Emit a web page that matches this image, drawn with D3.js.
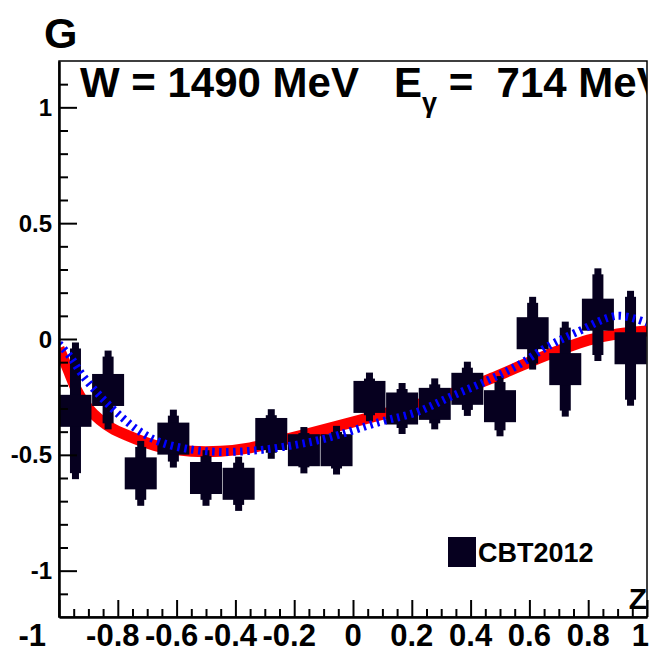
<!DOCTYPE html>
<html>
<head>
<meta charset="utf-8">
<script src="https://cdn.jsdelivr.net/npm/d3@7"></script>
<style>
  html, body { margin: 0; padding: 0; background: #fff; }
  svg { display: block; }
  text { font-family: "Liberation Sans", Arial, Helvetica, sans-serif; font-weight: bold; fill: #000; }
</style>
</head>
<body>
<svg id="chart" width="658" height="653"></svg>
<script>
// CBT2012 measurements of G at W = 1490 MeV, binned in z = cos(theta)
const zBins = [-0.944, -0.833, -0.722, -0.611, -0.5, -0.389, -0.278, -0.167, -0.056,
               0.056, 0.167, 0.278, 0.389, 0.5, 0.611, 0.722, 0.833, 0.944];
const gValues = [-0.31, -0.22, -0.58, -0.43, -0.60, -0.625, -0.41, -0.48, -0.48,
                 -0.25, -0.30, -0.28, -0.215, -0.29, 0.025, -0.13, 0.105, -0.04];
const gErrors = [0.295, 0.17, 0.14, 0.125, 0.12, 0.117, 0.107, 0.10, 0.105,
                 0.105, 0.11, 0.11, 0.117, 0.13, 0.157, 0.205, 0.20, 0.248];

// Model curves (solid red and dashed blue)
const redZ = [-1.0, -0.97, -0.94, -0.90, -0.86, -0.82, -0.77, -0.72, -0.64, -0.55, -0.45, -0.35,
              -0.25, -0.05, 0.10, 0.23, 0.35, 0.47, 0.60, 0.71, 0.80, 0.90, 1.0];
const redG = [-0.04, -0.13, -0.22, -0.30, -0.35, -0.385, -0.415, -0.44, -0.47, -0.485, -0.485, -0.47,
              -0.44, -0.375, -0.325, -0.28, -0.23, -0.17, -0.10, -0.045, -0.005, 0.022, 0.035];
const blueZ = [-1.0, -0.96, -0.918, -0.861, -0.793, -0.724, -0.656, -0.565, -0.463, -0.35,
               -0.238, -0.095, 0.092, 0.218, 0.33, 0.456, 0.558, 0.66, 0.762, 0.898, 1.0];
const blueG = [-0.02, -0.08, -0.16, -0.245, -0.33, -0.40, -0.445, -0.474, -0.487, -0.483,
               -0.466, -0.43, -0.358, -0.315, -0.25, -0.18, -0.116, -0.034, 0.03, 0.10, 0.07];

const xTickValues = [-1, -0.8, -0.6, -0.4, -0.2, 0, 0.2, 0.4, 0.6, 0.8, 1];
const xTickLabels = ["-1", "-0.8", "-0.6", "-0.4", "-0.2", "0", "0.2", "0.4", "0.6", "0.8", "1"];
const yTickValues = [-1, -0.5, 0, 0.5, 1];
const yTickLabels = ["-1", "-0.5", "0", "0.5", "1"];

const panelLetter = "G";
const legendLabel = "CBT2012";
const axisTitle = "Z";

const svg = d3.select("#chart");
const frame = { left: 59, right: 647, top: 61, bottom: 617 };

const x = d3.scaleLinear().domain([-1, 1]).range([frame.left, frame.right]);
const y = d3.scaleLinear().domain([-1.2, 1.2]).range([frame.bottom, frame.top]);

const markColor = "#06001f";

// clip region for everything inside the frame
svg.append("clipPath").attr("id", "plotClip")
  .append("rect")
  .attr("x", frame.left).attr("y", frame.top)
  .attr("width", frame.right - frame.left).attr("height", frame.bottom - frame.top);

const plot = svg.append("g").attr("clip-path", "url(#plotClip)");

const line = d3.line().x(d => x(d[0])).y(d => y(d[1])).curve(d3.curveCatmullRom.alpha(0.5));

// red model curve
plot.append("path")
  .datum(d3.zip(redZ, redG))
  .attr("d", line)
  .attr("fill", "none")
  .attr("stroke", "#ff0000")
  .attr("stroke-width", 11);

// data points: large square with thick error bar
const pts = plot.append("g").selectAll("g")
  .data(d3.zip(zBins, gValues, gErrors))
  .join("g");

const boxHalf = (x(1 / 18) - x(0)) * 0.98;
pts.append("rect") // outer thin tip of error bar
  .attr("x", d => x(d[0]) - 3.5)
  .attr("width", 7)
  .attr("y", d => y(d[1] + d[2]))
  .attr("height", d => y(d[1] - d[2]) - y(d[1] + d[2]))
  .attr("fill", markColor);
pts.append("rect") // thick body of error bar
  .attr("x", d => x(d[0]) - 5.5)
  .attr("width", 11)
  .attr("y", d => y(d[1] + d[2]) + 6)
  .attr("height", d => Math.max(0, y(d[1] - d[2]) - y(d[1] + d[2]) - 12))
  .attr("fill", markColor);
pts.append("rect") // square marker
  .attr("x", d => x(d[0]) - boxHalf)
  .attr("y", d => y(d[1]) - boxHalf)
  .attr("width", boxHalf * 2)
  .attr("height", boxHalf * 2)
  .attr("fill", markColor);

// blue dashed model curve
plot.append("path")
  .datum(d3.zip(blueZ, blueG))
  .attr("d", line)
  .attr("fill", "none")
  .attr("stroke", "#0000ff")
  .attr("stroke-width", 8)
  .attr("stroke-dasharray", "2.5 4.5");

// frame
svg.append("rect")
  .attr("x", frame.left).attr("y", frame.top)
  .attr("width", frame.right - frame.left).attr("height", frame.bottom - frame.top)
  .attr("fill", "none").attr("stroke", "#000").attr("stroke-width", 1.5);

// y axis: ticks drawn inward
const yAxis = d3.axisRight(y)
  .tickValues(d3.range(-11, 12).map(i => i / 10))
  .tickSize(0)
  .tickFormat("");
const yg = svg.append("g").attr("transform", `translate(${frame.left},0)`).call(yAxis);
yg.select(".domain").attr("stroke", "#000").attr("stroke-width", 2.5);
yg.selectAll(".tick line")
  .attr("x2", d => (Math.abs(d * 2 - Math.round(d * 2)) < 1e-6 ? 18 : 9))
  .attr("stroke", "#000").attr("stroke-width", 2);
svg.append("g").selectAll("text")
  .data(d3.zip(yTickValues, yTickLabels))
  .join("text")
  .attr("x", frame.left - 7)
  .attr("y", d => y(d[0]))
  .attr("dy", "0.36em")
  .attr("text-anchor", "end")
  .attr("font-size", 24)
  .text(d => d[1]);

// x axis: ticks drawn upward
const xAxis = d3.axisTop(x)
  .tickValues(d3.range(-20, 21).map(i => i / 20))
  .tickSize(0)
  .tickFormat("");
const xg = svg.append("g").attr("transform", `translate(0,${frame.bottom})`).call(xAxis);
xg.select(".domain").attr("stroke", "#000").attr("stroke-width", 2.5);
xg.selectAll(".tick line")
  .attr("y2", d => (Math.abs(d * 5 - Math.round(d * 5)) < 1e-6 ? -17 : -8))
  .attr("stroke", "#000").attr("stroke-width", 2);

// labels: the numeric part is centred on its tick; the end labels are pulled inward
const lastIdx = xTickValues.length - 1;
svg.append("g").selectAll("text")
  .data(d3.zip(xTickValues, xTickLabels))
  .join("text")
  .attr("x", (d, i) => {
    if (i === 0) return x(d[0]) - 13;
    if (i === lastIdx) return x(d[0]) + 2;
    return x(d[0]) - (d[0] < 0 ? 5 : 0);
  })
  .attr("y", 646)
  .attr("text-anchor", (d, i) => (i === 0 || i === lastIdx ? "end" : "middle"))
  .attr("font-size", 31)
  .text(d => d[1]);

// axis title
svg.append("text")
  .attr("x", frame.right).attr("y", 609)
  .attr("text-anchor", "end")
  .attr("font-size", 30)
  .text(axisTitle);

// panel letter
svg.append("text")
  .attr("x", 44).attr("y", 48)
  .attr("font-size", 43)
  .text(panelLetter);

// kinematics header, clipped at the frame's right edge
svg.append("clipPath").attr("id", "titleClip")
  .append("rect").attr("x", 0).attr("y", 0).attr("width", frame.right).attr("height", 200);
const title = svg.append("text")
  .attr("clip-path", "url(#titleClip)")
  .attr("x", 80).attr("y", 97)
  .attr("font-size", 42)
  .style("white-space", "pre");
title.append("tspan").text("W = 1490 MeV   E");
title.append("tspan").attr("font-size", 27).attr("dy", 15).text("γ");
title.append("tspan").attr("dy", -15).text(" =  714 MeV");

// legend
const lg = svg.append("g");
lg.append("rect")
  .attr("x", 448).attr("y", 537).attr("width", 28).attr("height", 30)
  .attr("fill", markColor);
lg.append("text")
  .attr("x", 478).attr("y", 562)
  .attr("font-size", 27)
  .text(legendLabel);
</script>
</body>
</html>
